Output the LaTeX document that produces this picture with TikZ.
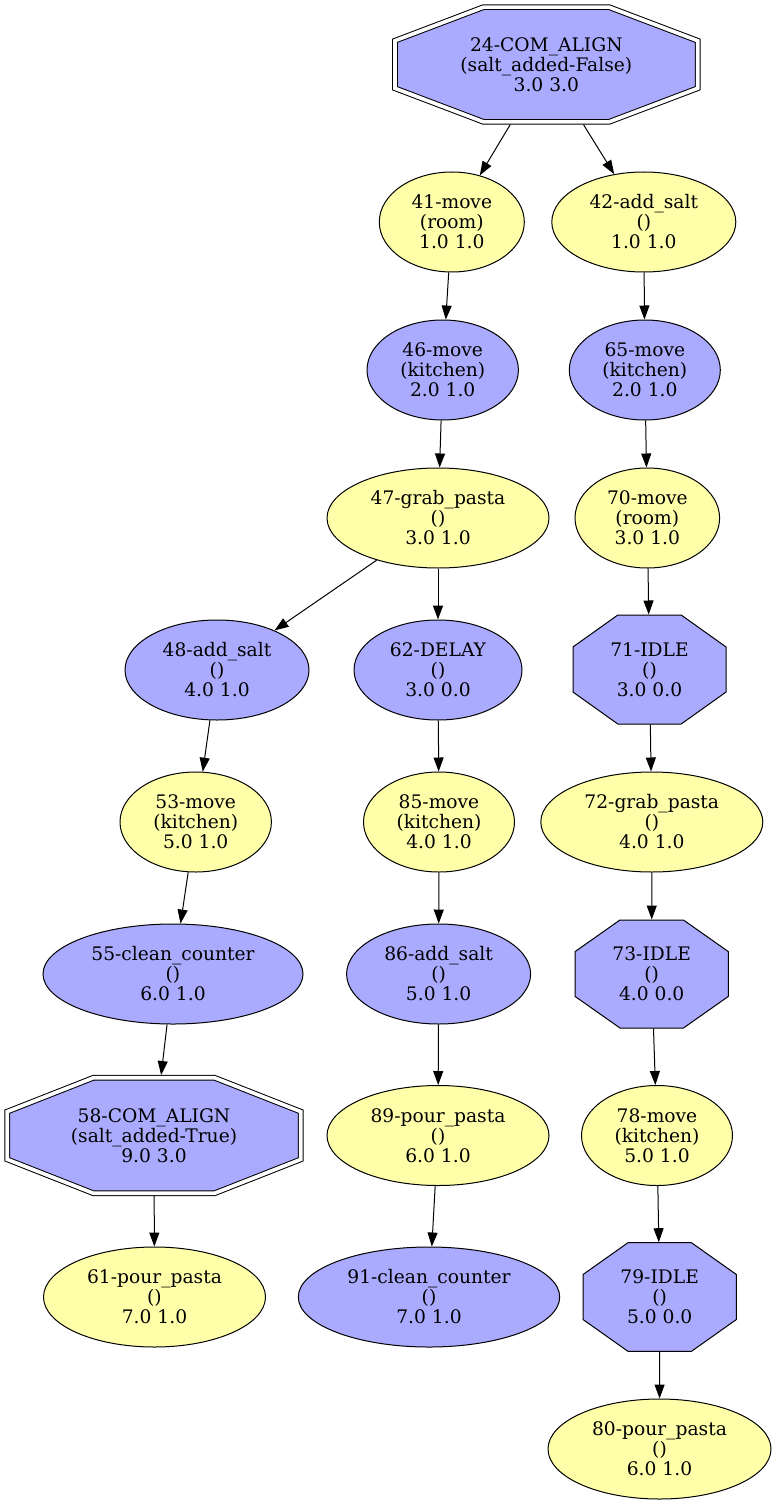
\documentclass[tikz,border=0pt]{standalone}
\usepackage{fontspec}
\setmainfont{DejaVu Serif}
\usetikzlibrary{shapes.geometric,arrows.meta,calc}
\definecolor{gvblue}{HTML}{AAAAFF}
\definecolor{gvyellow}{HTML}{FFFFAA}
\newcommand{\gvfont}{\fontsize{14}{15}\selectfont}
\tikzset{
  act/.style={ellipse, draw, inner sep=0pt, minimum height=75pt, align=center, font=\gvfont},
  yel/.style={act, fill=gvyellow, minimum width=#1*1.5pt},
  blu/.style={act, fill=gvblue, minimum width=#1*1.5pt},
  octbox/.style 2 args={rectangle, inner sep=0pt, minimum width=#1*1.5pt, minimum height=#2*1.5pt, align=center, font=\gvfont},
  idle/.style={fill=gvblue},
  comalign/.style={fill=gvblue, double, double distance=2.75pt, outer sep=2.1pt},
  edge/.style={-{Triangle[length=10.5pt,width=7.5pt]}}
}
% octagon: style, name, centre, half width, half height, text
\newcommand{\octnode}[6]{%
  \filldraw[#1] ($(#3)+(22.5:{#4/0.9239} and {#5/0.9239})$)
    \foreach \k in {1,...,7} { -- ($(#3)+({22.5+45*\k}:{#4/0.9239} and {#5/0.9239})$) } -- cycle;
  \node[octbox={#4}{#5}, #1, fill=none, draw=none] (#2) at (#3) {#6};}

\begin{document}
\begin{tikzpicture}[x=0.75pt, y=-0.75pt, line width=0.75pt]
\useasboundingbox (0,0) rectangle (776,1505);
\octnode{comalign}{n24}{546.3,64.5}{151.4}{57.4}{24-COM\_ALIGN\\(salt\_added-False)\\3.0 3.0}
\node[yel=72.5] (n41) at (451.8,222) {41-move\\(room)\\1.0 1.0};
\node[yel=92] (n42) at (643.8,222) {42-add\_salt\\()\\1.0 1.0};
\node[blu=75.7] (n46) at (442.7,370) {46-move\\(kitchen)\\2.0 1.0};
\node[blu=75.5] (n65) at (644.8,370) {65-move\\(kitchen)\\2.0 1.0};
\node[yel=111] (n47) at (438,518) {47-grab\_pasta\\()\\3.0 1.0};
\node[yel=72.3] (n70) at (647.3,518) {70-move\\(room)\\3.0 1.0};
\node[blu=92] (n48) at (217,670) {48-add\_salt\\()\\4.0 1.0};
\node[blu=84] (n62) at (438,670) {62-DELAY\\()\\3.0 0.0};
\octnode{idle}{n71}{649.5,669.5}{76.5}{54.5}{71-IDLE\\()\\3.0 0.0}
\node[yel=75.7] (n53) at (195.7,822) {53-move\\(kitchen)\\5.0 1.0};
\node[yel=75.5] (n85) at (439,822) {85-move\\(kitchen)\\4.0 1.0};
\node[yel=111] (n72) at (651.8,822) {72-grab\_pasta\\()\\4.0 1.0};
\node[blu=130] (n55) at (173,974) {55-clean\_counter\\()\\6.0 1.0};
\node[blu=92] (n86) at (438.6,974) {86-add\_salt\\()\\5.0 1.0};
\octnode{idle}{n73}{651.7,974}{76.7}{54}{73-IDLE\\()\\4.0 0.0}
\octnode{comalign}{n58}{154,1135.5}{146.7}{57.7}{58-COM\_ALIGN\\(salt\_added-True)\\9.0 3.0}
\node[yel=111] (n89) at (438,1135.5) {89-pour\_pasta\\()\\6.0 1.0};
\node[yel=75.5] (n78) at (657,1135.5) {78-move\\(kitchen)\\5.0 1.0};
\node[yel=111] (n61) at (154.5,1297) {61-pour\_pasta\\()\\7.0 1.0};
\node[blu=130.7] (n91) at (429,1297) {91-clean\_counter\\()\\7.0 1.0};
\octnode{idle}{n79}{659.7,1297}{76.7}{54.3}{79-IDLE\\()\\5.0 0.0}
\node[yel=111.5] (n80) at (659.5,1449) {80-pour\_pasta\\()\\6.0 1.0};
\foreach \a/\b in {n24/n41, n24/n42, n41/n46, n46/n47, n47/n48, n47/n62, n48/n53, n53/n55,
  n55/n58, n58/n61, n62/n85, n85/n86, n86/n89, n89/n91, n42/n65, n65/n70, n70/n71,
  n71/n72, n72/n73, n73/n78, n78/n79, n79/n80}
  \draw[edge] (\a) -- (\b);
\end{tikzpicture}
\end{document}
